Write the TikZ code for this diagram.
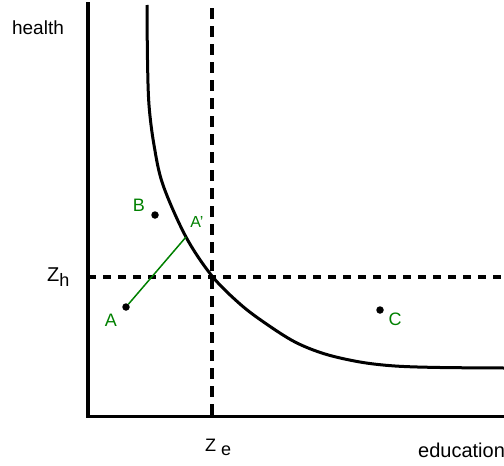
\documentclass[tikz,border=0pt]{standalone}
\usepackage{fontspec}
\setmainfont{Liberation Sans}
\begin{document}
\begin{tikzpicture}[x=1pt,y=-1pt,
  axis/.style={line width=3.5pt},
  curve/.style={line width=3pt},
  hdash/.style={line width=3.5pt, dash pattern=on 8pt off 7pt},
  vdash/.style={line width=3.5pt, dash pattern=on 11pt off 7pt},
  dot/.style={circle, fill=black, inner sep=0pt, minimum size=7.5pt},
  lbl/.style={font=\fontsize{19}{19}\selectfont, inner sep=0pt},
  glbl/.style={font=\fontsize{18}{18}\selectfont, text=gr, inner sep=0pt},
]
\definecolor{gr}{HTML}{008000}
\useasboundingbox (0,0) rectangle (504,466);
% axes
\coordinate (top) at (88,2);
\coordinate (orig) at (88,416.5);
\coordinate (right) at (504,416.5);
\draw[axis] (top) -- (orig) -- (right);
% dashed lines
\coordinate (zht) at (88,277);
\coordinate (zhr) at (504,277);
\draw[hdash] (zht) -- (zhr);
\coordinate (zet) at (212,8);
\coordinate (zeb) at (212,416);
\draw[vdash] (zet) -- (zeb);
% curve
\coordinate (Ap) at (186,237);
\draw[curve] plot[smooth, tension=0.55] coordinates {(147,5) (147.5,60) (149,105) (154,145) (163,185) (186,237) (212,276) (240,304) (265,323) (295,342) (325,354) (360,362) (395,366) (440,367.5) (504,368)};
% points
\node[dot] (A) at (126,307) {};
\node[dot] (B) at (155,215) {};
\node[dot] (C) at (380,310) {};
\draw[gr, line width=1.5pt] (A) -- (Ap);
% labels
\node[glbl] (lA) at (111,320) {A};
\node[glbl] (lB) at (139,205) {B};
\node[glbl, font=\fontsize{16}{16}\selectfont] (lAp) at (197,222) {A'};
\node[glbl] (lC) at (395,319) {C};
\node[lbl] (health) at (38,28) {health};
\node[lbl, anchor=base west, font=\fontsize{20}{20}\selectfont] (zh) at (47,281) {Z\raisebox{-5pt}{\fontsize{18}{18}\selectfont h}};
\node[lbl, anchor=base west, font=\fontsize{18}{18}\selectfont] (ze) at (205,451) {Z\raisebox{-4pt}{ e}};
\node[lbl, anchor=base west, font=\fontsize{20}{20}\selectfont] (edu) at (418,457) {education};
\end{tikzpicture}
\end{document}
